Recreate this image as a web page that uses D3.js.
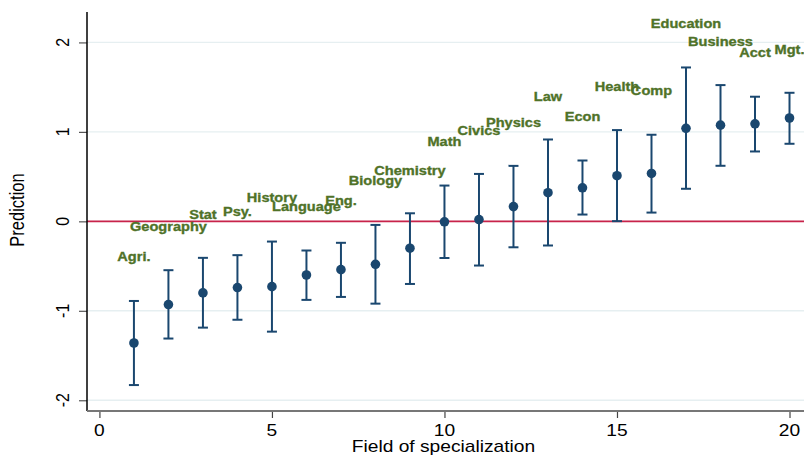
<!DOCTYPE html>
<html lang="en">
<head>
  <meta charset="UTF-8">
  <title>Prediction by field of specialization</title>
  <script src="https://d3js.org/d3.v7.min.js"></script>
  <style>
    body { margin: 0; background: #fff; }
    svg { display: block; font-family: "Liberation Sans", Arial, sans-serif; }
    .lab { font-weight: bold; fill: #4f7228; stroke: #4f7228; stroke-width: 0.35px; font-size: 13.5px; }
    .tick-label { font-size: 16px; fill: #000; }
  </style>
</head>
<body>
<svg width="804" height="455"></svg>
<script>
  // fields 1..20, point estimate with 95% interval
  const fields = ["Agri.", "Geography", "Stat", "Psy.", "History", "Language", "Eng.", "Biology", "Chemistry", "Math",
                  "Civics", "Physics", "Law", "Econ", "Health", "Comp", "Education", "Business", "Acct", "Mgt."];
  const prediction = [-1.36, -0.93, -0.80, -0.74, -0.73, -0.60, -0.54, -0.48, -0.30, -0.005,
                      0.02, 0.165, 0.32, 0.375, 0.51, 0.535, 1.04, 1.075, 1.09, 1.155];
  const upper = [-0.89, -0.546, -0.408, -0.378, -0.226, -0.326, -0.24, -0.04, 0.09, 0.40,
                 0.53, 0.62, 0.915, 0.68, 1.02, 0.968, 1.72, 1.523, 1.393, 1.437];
  const lower = [-1.83, -1.31, -1.188, -1.10, -1.233, -0.878, -0.845, -0.92, -0.70, -0.41,
                 -0.494, -0.29, -0.27, 0.076, 0.002, 0.098, 0.364, 0.621, 0.781, 0.867];
  // where each field name is placed
  const labelY = [-0.39, -0.058, 0.08, 0.11, 0.27, 0.174, 0.23, 0.463, 0.576, 0.893,
                  1.015, 1.105, 1.396, 1.173, 1.509, 1.463, 2.21, 2.011, 1.888, 1.926];
  const xTicks = [0, 5, 10, 15, 20];
  const yTicks = [-2, -1, 0, 1, 2];

  const svg = d3.select("svg");
  const width = +svg.attr("width");
  const plotLeft = 87, plotTop = 12, plotBottom = 411;
  const stretch = 1.2;

  const x = d3.scaleLinear().domain([-0.36, 20.42]).range([plotLeft, width]);
  const y = d3.scaleLinear().domain([-2.12, 2.34]).range([plotBottom, plotTop]);

  const data = fields.map((f, i) => ({
    field: i + 1, name: f, est: prediction[i], hi: upper[i], lo: lower[i], ly: labelY[i]
  }));

  // grid
  svg.append("g").selectAll("line")
    .data(yTicks)
    .join("line")
    .attr("x1", plotLeft).attr("x2", width)
    .attr("y1", d => y(d)).attr("y2", d => y(d))
    .attr("stroke", "#e6eff1").attr("stroke-width", 1.4);

  // reference line at zero
  svg.append("line")
    .attr("x1", plotLeft).attr("x2", width)
    .attr("y1", y(0)).attr("y2", y(0))
    .attr("stroke", "#c8234a").attr("stroke-width", 1.8);

  // axes
  const yAxis = svg.append("g").attr("transform", `translate(${plotLeft},0)`)
    .call(d3.axisLeft(y).tickValues(yTicks).tickSize(8).tickFormat(""));
  yAxis.select(".domain").remove();
  yAxis.selectAll(".tick line").attr("stroke", "#555").attr("stroke-width", 1.2);
  svg.append("line")
    .attr("x1", plotLeft).attr("x2", plotLeft).attr("y1", plotTop).attr("y2", plotBottom)
    .attr("stroke", "#000").attr("stroke-width", 1.5);

  const xAxis = svg.append("g").attr("transform", `translate(0,${plotBottom})`)
    .call(d3.axisBottom(x).tickValues(xTicks).tickSize(7).tickFormat(""));
  xAxis.select(".domain").remove();
  xAxis.selectAll(".tick line").attr("stroke", "#444").attr("stroke-width", 1.2);
  svg.append("line")
    .attr("x1", plotLeft).attr("x2", width).attr("y1", plotBottom).attr("y2", plotBottom)
    .attr("stroke", "#777").attr("stroke-width", 2);

  svg.append("g").selectAll("text")
    .data(xTicks)
    .join("text")
    .attr("class", "tick-label")
    .attr("text-anchor", "middle")
    .attr("transform", d => `translate(${x(d)},436) scale(${stretch},1)`)
    .text(d => d);

  svg.append("g").selectAll("text")
    .data(yTicks)
    .join("text")
    .attr("class", "tick-label")
    .attr("text-anchor", "middle")
    .attr("transform", d => `translate(69,${y(d)}) scale(${stretch},1) rotate(-90)`)
    .text(d => d);

  svg.append("text")
    .attr("text-anchor", "middle")
    .attr("font-size", 16)
    .attr("transform", `translate(${x(10) - 1},452) scale(${stretch},1)`)
    .text("Field of specialization");

  svg.append("text")
    .attr("text-anchor", "middle")
    .attr("font-size", 16.5)
    .attr("transform", `translate(24,210) scale(${stretch},1) rotate(-90)`)
    .text("Prediction");

  // error bars
  const bars = svg.append("g").attr("stroke", "#1a476f").attr("stroke-width", 2);
  bars.selectAll("line.v")
    .data(data)
    .join("line")
    .attr("class", "v")
    .attr("x1", d => x(d.field)).attr("x2", d => x(d.field))
    .attr("y1", d => y(d.hi)).attr("y2", d => y(d.lo));
  bars.selectAll("line.cap-hi")
    .data(data)
    .join("line")
    .attr("class", "cap-hi")
    .attr("x1", d => x(d.field) - 5).attr("x2", d => x(d.field) + 5)
    .attr("y1", d => y(d.hi)).attr("y2", d => y(d.hi));
  bars.selectAll("line.cap-lo")
    .data(data)
    .join("line")
    .attr("class", "cap-lo")
    .attr("x1", d => x(d.field) - 5).attr("x2", d => x(d.field) + 5)
    .attr("y1", d => y(d.lo)).attr("y2", d => y(d.lo));

  svg.append("g").selectAll("circle")
    .data(data)
    .join("circle")
    .attr("cx", d => x(d.field))
    .attr("cy", d => y(d.est))
    .attr("r", 4.8)
    .attr("fill", "#1a476f");

  // field names
  svg.append("g").selectAll("text")
    .data(data)
    .join("text")
    .attr("class", "lab")
    .attr("text-anchor", "middle")
    .attr("dy", "0.35em")
    .attr("transform", d => `translate(${x(d.field)},${y(d.ly)}) scale(1.08,1)`)
    .text(d => d.name);
</script>
</body>
</html>
